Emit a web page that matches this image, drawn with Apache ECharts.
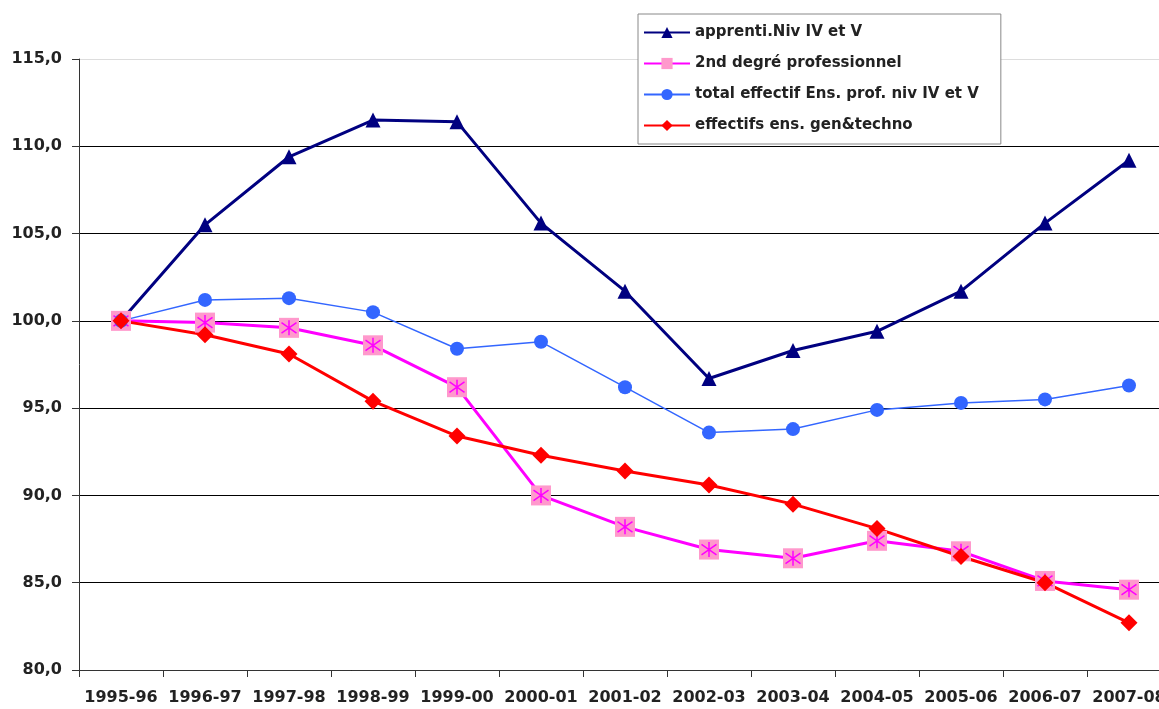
<!DOCTYPE html>
<html><head><meta charset="utf-8">
<script src="https://cdn.jsdelivr.net/npm/echarts@6/dist/echarts.min.js"></script>
<style>html,body{margin:0;padding:0;background:#fff;overflow:hidden;width:1159px;height:709px}#c{width:1180px;height:709px}</style>
</head><body><div id="c"></div>
<script>
const categories = ['1995-96','1996-97','1997-98','1998-99','1999-00','2000-01','2001-02','2002-03','2003-04','2004-05','2005-06','2006-07','2007-08'];
const apprenti = [100.0,105.5,109.4,111.5,111.4,105.6,101.7,96.7,98.3,99.4,101.7,105.6,109.2];
const secondDegre = [100.0,99.9,99.6,98.6,96.2,90.0,88.2,86.9,86.4,87.4,86.8,85.1,84.6];
const totalProf = [100.0,101.2,101.3,100.5,98.4,98.8,96.2,93.6,93.8,94.9,95.3,95.5,96.3];
const genTechno = [100.0,99.2,98.1,95.4,93.4,92.3,91.4,90.6,89.5,88.1,86.5,85.0,82.7];
const yTicks = {min: 80, max: 115, interval: 5};
const names = ['apprenti.Niv IV et V','2nd degré professionnel','total effectif Ens. prof. niv IV et V','effectifs ens. gen&techno'];

const font = 'DejaVu Sans, Verdana, sans-serif';
const chart = echarts.init(document.getElementById('c'));
chart.setOption({
  animation: false,
  backgroundColor: '#fff',
  grid: {left: 79, top: 59, width: 1092, bottom: 39, containLabel: false},
  legend: {
    orient: 'vertical', left: 638, top: 14,
    data: names,
    backgroundColor: '#fff', borderColor: '#888', borderWidth: 1,
    padding: [11, 22, 11, 5],
    itemWidth: 46, itemHeight: 14, itemGap: 16,
    textStyle: {fontFamily: font, fontWeight: 'bold', fontSize: 15, color: '#222'}
  },
  xAxis: {
    type: 'category', data: categories, boundaryGap: true,
    axisLine: {lineStyle: {color: '#333', width: 1}},
    axisTick: {show: true, length: 7, lineStyle: {color: '#333'}},
    axisLabel: {fontFamily: font, fontWeight: 'bold', fontSize: 16, color: '#222', margin: 20, interval: 0}
  },
  yAxis: {
    type: 'value', min: yTicks.min, max: yTicks.max, interval: yTicks.interval,
    axisLine: {show: true, lineStyle: {color: '#333'}},
    axisTick: {show: true, length: 7, lineStyle: {color: '#333'}},
    axisLabel: {fontFamily: font, fontWeight: 'bold', fontSize: 16, color: '#222', margin: 17,
      formatter: v => v.toFixed(1).replace('.', ',')},
    splitLine: {show: true, lineStyle: {color: ['#000','#000','#000','#000','#000','#000','#000','#ddd'], width: 1}}
  },
  series: [
    {name: names[0], type: 'line', data: apprenti, symbol: 'triangle', symbolSize: 15,
      lineStyle: {color: '#000080', width: 3}, itemStyle: {color: '#000080'}},
    {name: names[1], type: 'line', data: secondDegre, symbol: 'rect', symbolSize: 20,
      lineStyle: {color: '#FF00FF', width: 3}, itemStyle: {color: '#FF99CC'}},
    {name: 'overlay', type: 'line', data: secondDegre,
      symbol: 'path://M5,0L5,10M0.5,1.5L9.5,8.5M9.5,1.5L0.5,8.5', symbolSize: 15,
      lineStyle: {opacity: 0, width: 0},
      itemStyle: {color: 'none', borderColor: '#FF00FF', borderWidth: 1.5}},
    {name: names[2], type: 'line', data: totalProf, symbol: 'circle', symbolSize: 14,
      lineStyle: {color: '#3366FF', width: 1.5}, itemStyle: {color: '#3366FF'}},
    {name: names[3], type: 'line', data: genTechno, symbol: 'diamond', symbolSize: 17,
      lineStyle: {color: '#FF0000', width: 3}, itemStyle: {color: '#FF0000'}}
  ]
});
</script></body></html>
